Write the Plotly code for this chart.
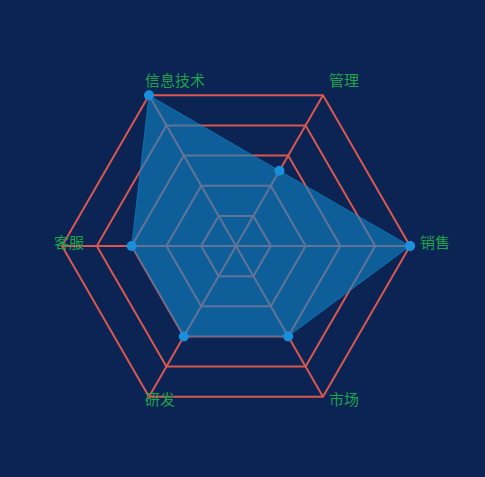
import math
import plotly.graph_objects as go

# radar indicators, counter-clockwise from the right
indicators = ['销售', '管理', '信息技术', '客服', '研发', '市场']
values = [100, 50, 100, 60, 60, 60]
max_value = 100

W, H = 485, 477
bg = '#0b2454'
grid_red = '#d9574f'
label_green = '#1ca44a'

# polar domain (paper units)
dom_x = [0.1278, 0.8454]
dom_y = [0.1195, 0.849]

fig = go.Figure()
fig.add_trace(
    go.Scatterpolar(
        r=values + values[:1],
        theta=indicators + indicators[:1],
        mode='lines+markers',
        fill='toself',
        fillcolor='rgba(16,135,200,0.6)',
        line=dict(color='rgba(16,135,200,0.6)', width=1),
        marker=dict(color='#1a8fdc', size=10),
        hoverinfo='r+theta'
    )
)

# indicator names placed like echarts does (outside each vertex)
cx = (dom_x[0] + dom_x[1]) / 2
cy = (dom_y[0] + dom_y[1]) / 2
rad_x = (dom_x[1] - dom_x[0]) / 2
rad_y = (dom_y[1] - dom_y[0]) / 2
annotations = []
for i, name in enumerate(indicators):
    ang = math.radians(360 / len(indicators) * i)
    s = math.sin(ang)
    annotations.append(dict(
        x=cx + rad_x * math.cos(ang),
        y=cy + rad_y * s,
        xref='paper', yref='paper',
        text=name,
        showarrow=False,
        xanchor='left',
        yanchor='middle',
        xshift=9 * math.cos(ang) - 1,
        yshift=5 + (12 if s > 0 else 8) * s,
        font=dict(size=15, color=label_green)
    ))

fig.update_layout(
    width=W,
    height=H,
    margin=dict(l=0, r=0, t=0, b=0),
    paper_bgcolor=bg,
    plot_bgcolor=bg,
    showlegend=False,
    font=dict(family='Noto Sans CJK SC', size=15, color=label_green),
    annotations=annotations,
    polar=dict(
        bgcolor=bg,
        domain=dict(x=dom_x, y=dom_y),
        gridshape='linear',
        radialaxis=dict(
            range=[0, max_value],
            tickvals=[20, 40, 60, 80, 100],
            showticklabels=False,
            ticks='',
            showline=False,
            gridcolor=grid_red,
            gridwidth=1.5,
            layer='below traces'
        ),
        angularaxis=dict(
            direction='counterclockwise',
            rotation=0,
            ticks='',
            showticklabels=False,
            linecolor=grid_red,
            linewidth=2,
            gridcolor=grid_red,
            gridwidth=1.5,
            layer='below traces'
        )
    )
)

fig.write_html('out.html', config={'displayModeBar': False},
               post_script="document.body.style.margin='0';")
